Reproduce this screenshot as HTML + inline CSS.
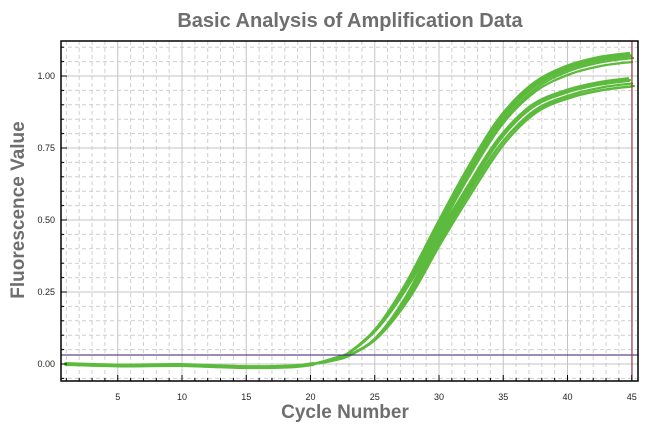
<!DOCTYPE html>
<html><head><meta charset="utf-8"><style>
html,body{margin:0;padding:0;background:#fff;}
svg{display:block;font-family:"Liberation Sans",Arial,sans-serif;}
</style></head><body>
<svg id="s" width="658" height="431" viewBox="0 0 658 431" xmlns="http://www.w3.org/2000/svg">
<text x="350" y="27" text-anchor="middle" font-size="20" font-weight="bold" fill="#6e6e6e">Basic Analysis of Amplification Data</text>
<text x="345" y="418" text-anchor="middle" font-size="19" font-weight="bold" fill="#6e6e6e">Cycle Number</text>
<text transform="translate(24,210) rotate(-90)" text-anchor="middle" font-size="19" font-weight="bold" fill="#6e6e6e">Fluorescence Value</text>
<g id="grid"></g>
<g id="curves" fill="none" stroke="#5cba3c" stroke-width="2.3" stroke-linejoin="round" stroke-linecap="round"></g>
<line x1="61" y1="355" x2="638" y2="355" stroke="#3a1a7a" stroke-width="1"/>
<line x1="632" y1="41" x2="632" y2="381" stroke="#8b1a2a" stroke-width="1"/>
<rect x="61" y="41" width="577" height="340" fill="none" stroke="#000" stroke-width="1.5"/>
<g id="ticks" font-size="9" fill="#222"></g>
</svg>
<script>
var NS="http://www.w3.org/2000/svg";
function X(c){return 53.5+12.85*c;}
function Y(v){return 364-288*v;}
function el(p,t,a,txt){var e=document.createElementNS(NS,t);for(var k in a)e.setAttribute(k,a[k]);if(txt!==undefined)e.textContent=txt;p.appendChild(e);return e;}
var g=document.getElementById('grid'),tk=document.getElementById('ticks');
for(var c=1;c<=45;c++){var x=X(c);var maj=c%5==0;
 el(g,'line',{x1:x,y1:41,x2:x,y2:381,stroke:maj?'#c4c4c4':'#cfcfcf','stroke-width':1,'stroke-dasharray':maj?'':'4,3'});
 el(tk,'line',{x1:x,y1:381,x2:x,y2:maj?375:378,stroke:'#000','stroke-width':1});
 if(maj)el(tk,'text',{x:x,y:400,'text-anchor':'middle'},String(c));}
for(var i=-1;i<=22;i++){var v=i*0.05,y=Y(v);if(y<41||y>381)continue;var maj=i%5==0;
 el(g,'line',{x1:61,y1:y,x2:638,y2:y,stroke:maj?'#c4c4c4':'#cfcfcf','stroke-width':1,'stroke-dasharray':maj?'':'4,3'});
 el(tk,'line',{x1:61,y1:y,x2:maj?67:64,y2:y,stroke:'#000','stroke-width':1});
 if(maj)el(tk,'text',{x:55,y:y+3,'text-anchor':'end'},v.toFixed(2));}
function path(pts){var d='M'+pts[0][0]+','+pts[0][1];
 for(var i=0;i<pts.length-1;i++){var p0=pts[i-1]||pts[i],p1=pts[i],p2=pts[i+1],p3=pts[i+2]||p2;
  d+=' C'+(p1[0]+(p2[0]-p0[0])/6).toFixed(1)+','+(p1[1]+(p2[1]-p0[1])/6).toFixed(1)+' '+(p2[0]-(p3[0]-p1[0])/6).toFixed(1)+','+(p2[1]-(p3[1]-p1[1])/6).toFixed(1)+' '+p2[0]+','+p2[1];}
 return d;}
var base=[[66,364],[120,365.5],[180,365],[240,367],[290,366.5]];
var g1=[[313,364],[335,358],[350,352],[377,328],[407,284],[437,228],[467,173],[500,120],[533,86],[567,68],[600,59],[630,55]];
var g2=[[313,364],[335,360],[350,355],[377,337],[407,297],[437,241],[467,191],[500,140],[533,107],[567,92],[600,84],[630,80]];
var cv=document.getElementById('curves');
function draw(grp,dx,dy,endDy){var pts=base.concat(grp).map(function(p){var f=Math.max(0,(364-p[1])/310);var ex=f*f*endDy;var sx=p[0]>300?dx*Math.min(1,f*3):0;return [+(p[0]+sx).toFixed(1),+(p[1]+(p[0]>300?dy*Math.min(1,f*3):0)+ex).toFixed(1)];});
 el(cv,'path',{d:path(pts)});}
el(cv,'path',{d:path(base.concat([[313,364]])),'stroke-width':4});
[[0,0,0],[-2,0,-1],[1,1,0],[3,0,3],[-1,-1,-1],[2,1,6]].forEach(function(o){draw(g1,o[0],o[1],o[2]);});
[[0,0,0],[-2,0,-2],[2,1,3],[4,1,6],[1,-1,9],[-1,0,1]].forEach(function(o){draw(g2,o[0],o[1],o[2]);});
</script>
</body></html>
